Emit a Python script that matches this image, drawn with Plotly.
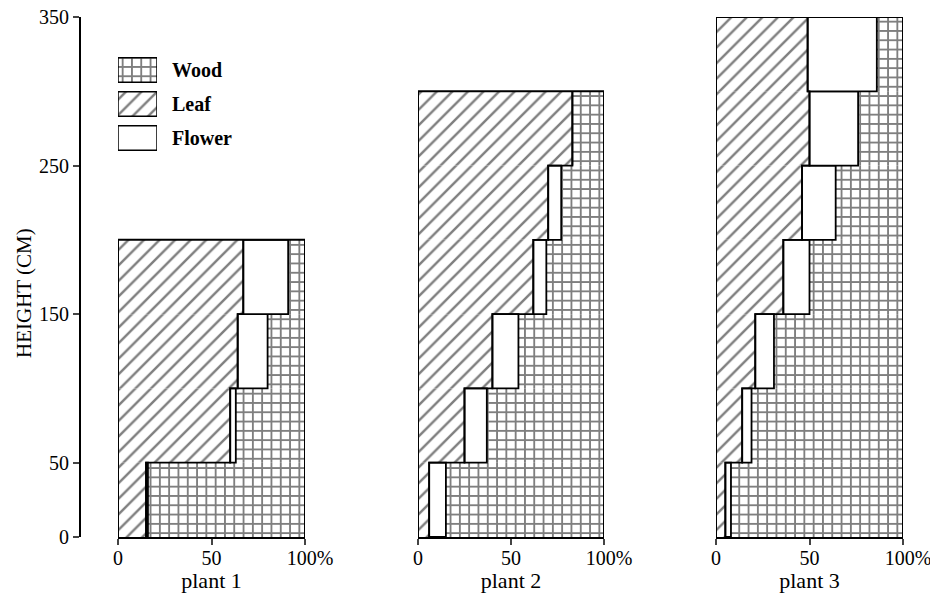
import plotly.graph_objects as go

# ---- data -------------------------------------------------------------
layer_mid = [25, 75, 125, 175, 225, 275, 325]        # height-layer centres (cm)
layer_width = 50

plant1_leaf = [15, 60, 64, 67]
plant1_flower = [1, 3, 16, 24]
plant2_leaf = [6, 25, 40, 62, 70, 83]
plant2_flower = [9, 12, 14, 7, 7, 0]
plant3_leaf = [5, 14, 21, 36, 46, 50, 49]
plant3_flower = [3, 5, 10, 14, 18, 26, 37]

plant_names = ["plant 1", "plant 2", "plant 3"]
y_ticks = [0, 50, 150, 250, 350]
x_ticks = [0, 50, 100]
x_ticktext = ["0", "50", "\u00a0\u00a0100%"]
legend_labels = ["Wood", "Leaf", "Flower"]
y_title = "HEIGHT (CM)"

# ---- styling ----------------------------------------------------------
FONT = "Liberation Serif, Times New Roman, serif"
OFF = 8                     # page body margin of the html page
W, H = 938 - OFF, 593 - OFF
wood_pat = dict(shape="+", fgcolor="black", bgcolor="white", size=9.3, solidity=0.36)
leaf_pat = dict(shape="/", fgcolor="black", bgcolor="white", size=11, solidity=0.22)
no_line = dict(width=0)
outline = dict(color="black", width=1.8)

fig = go.Figure()

plants = [(plant1_leaf, plant1_flower), (plant2_leaf, plant2_flower), (plant3_leaf, plant3_flower)]
xaxes = ["x", "x2", "x3"]
for (leaf, flower), xa in zip(plants, xaxes):
    n = len(leaf)
    ys = layer_mid[:n]
    wood = [100 - l - f for l, f in zip(leaf, flower)]
    base_w = [l + f for l, f in zip(leaf, flower)]
    common = dict(orientation="h", y=ys, width=[layer_width] * n, xaxis=xa, yaxis="y",
                  showlegend=False, hoverinfo="skip")
    fig.add_trace(go.Bar(x=leaf, base=[0] * n,
                         marker=dict(color="white", pattern=leaf_pat, line=no_line), **common))
    fig.add_trace(go.Bar(x=wood, base=base_w,
                         marker=dict(color="white", pattern=wood_pat, line=no_line), **common))
    fig.add_trace(go.Bar(x=flower, base=leaf,
                         marker=dict(color="white", line=outline), **common))
    # leaf boundary (step line following the leaf share of each layer)
    lx, ly = [], []
    for m, l in zip(ys, leaf):
        lx += [l, l]
        ly += [m - layer_width / 2, m + layer_width / 2]
    fig.add_trace(go.Scatter(x=lx, y=ly, mode="lines", line=dict(color="black", width=1.8),
                             xaxis=xa, yaxis="y", showlegend=False, hoverinfo="skip"))
    # outer frame of the plant profile
    top = ys[-1] + layer_width / 2
    fig.add_trace(go.Scatter(x=[0, 0, 100, 100], y=[0, top, top, 0], mode="lines",
                             line=dict(color="black", width=2), xaxis=xa, yaxis="y",
                             showlegend=False, hoverinfo="skip"))

# legend swatches drawn on a small hidden axis
leg_patterns = [wood_pat, leaf_pat, None]
for lab, pat in zip(legend_labels, leg_patterns):
    mk = dict(color="white", line=dict(color="black", width=1.5))
    if pat:
        mk["pattern"] = pat
    fig.add_trace(go.Bar(orientation="h", x=[1], y=[lab], width=0.72, xaxis="x4", yaxis="y4",
                         marker=mk, showlegend=False, hoverinfo="skip"))

# ---- layout -------------------------------------------------------------
def px_x(p):
    return (p - OFF) / W

def px_y(p):
    return 1 - (p - OFF) / H

y_dom = [px_y(537), px_y(17)]
x_doms = [[px_x(118), px_x(305)], [px_x(418), px_x(604)], [px_x(716), px_x(903)]]

layout = dict(
    width=W, height=H,
    margin=dict(l=0, r=0, t=0, b=0, autoexpand=False),
    paper_bgcolor="white", plot_bgcolor="white",
    barmode="overlay",
    font=dict(family=FONT, size=20, color="black"),
    yaxis=dict(domain=y_dom, range=[0, 350], anchor="free", position=px_x(80),
               tickvals=y_ticks, ticks="outside", ticklen=6, tickwidth=2,
               showline=True, linewidth=2, linecolor="black", showgrid=False, zeroline=False,
               automargin=False, ticklabeloverflow="allow",
               tickfont=dict(size=20)),
    annotations=[dict(text=y_title, textangle=-90, xref="paper", yref="paper",
                      x=px_x(24), y=px_y(293), showarrow=False,
                      xanchor="center", yanchor="middle", font=dict(size=21))],
)
for i, (dom, name) in enumerate(zip(x_doms, plant_names)):
    key = "xaxis" if i == 0 else f"xaxis{i + 1}"
    layout[key] = dict(domain=dom, range=[0, 100], anchor="y", automargin=False,
                       tickvals=x_ticks, ticktext=x_ticktext, ticks="outside", ticklen=6,
                       tickwidth=2, showline=True, linewidth=2, linecolor="black",
                       showgrid=False, zeroline=False, tickfont=dict(size=20),
                       ticklabelstandoff=-4, ticklabeloverflow="allow",
                       title=dict(text=name, font=dict(size=22), standoff=0))

layout["xaxis4"] = dict(domain=[px_x(118), px_x(157)], range=[0, 1], anchor="y4",
                        visible=False, fixedrange=True, automargin=False)
layout["yaxis4"] = dict(domain=[px_y(155), px_y(53)], anchor="x4", side="right",
                        categoryorder="array", categoryarray=legend_labels[::-1],
                        showline=False, showgrid=False, zeroline=False, ticks="",
                        ticklabelstandoff=14, automargin=False,
                        tickfont=dict(size=20, weight="bold"))
fig.update_layout(**layout)

fig.write_html("out.html")
